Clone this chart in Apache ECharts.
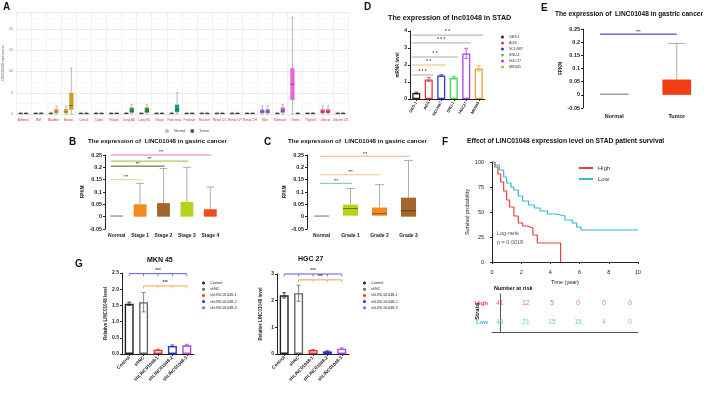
<!DOCTYPE html>
<html>
<head>
<meta charset="utf-8">
<script src="https://cdn.jsdelivr.net/npm/echarts@6/dist/echarts.min.js"></script>
<style>
html, body { margin: 0; padding: 0; background: #fff; }
#wrap { position: relative; width: 709px; height: 397px; overflow: hidden; }
.layer { position: absolute; left: 0; top: 0; width: 709px; height: 397px; }
</style>
</head>
<body>
<div id="wrap"></div>
<script>
const FONT = '"Liberation Sans", Arial, sans-serif';

// ---- A: pan-cancer expression
const aCats = ['Adrenal', 'BM', 'Bladder', 'Breast', 'Cervix', 'Colon', 'Esoph', 'Lung AD', 'Lung SC', 'Ovary', 'Pancreas',
  'Prostate', 'Rectum', 'Renal CC', 'Renal CP', 'Renal CH', 'Skin', 'Stomach', 'Testis', 'Thyroid', 'Uterus', 'Uterine CS'];
const tiny = [0, 0, 0.05, 0.2, 0.4];
const aNormal = [tiny, tiny, tiny, [0, 0.2, 0.5, 1.2, 1.9], tiny, tiny, tiny, tiny, tiny, tiny, tiny,
  tiny, tiny, tiny, tiny, tiny, [0, 0.2, 0.5, 1.1, 1.9], tiny, [0, 3.3, 7, 10.8, 22.8], tiny, [0, 0.2, 0.5, 1.1, 1.9], tiny];
const aTumor = [tiny, tiny, [0, 0.2, 0.5, 1.2, 1.9], [0, 1, 2, 5, 10.8], tiny, tiny, tiny, [0, 0.3, 0.7, 1.5, 2.2], [0, 0.3, 0.7, 1.5, 2.2], tiny, [0, 0.4, 1, 2.2, 5],
  tiny, tiny, tiny, tiny, tiny, [0, 0.2, 0.5, 1.1, 1.9], [0, 0.3, 0.7, 1.5, 2.2], tiny, tiny, [0, 0.2, 0.5, 1.1, 1.9], tiny];
const aNormalColors = ['#555', '#555', '#555', '#e0a030', '#555', '#555', '#555', '#555', '#555', '#555', '#555',
  '#555', '#555', '#555', '#555', '#555', '#9a6ae0', '#555', '#e466e4', '#555', '#e0508a', '#555'];
const aTumorColors = ['#555', '#555', '#e8a040', '#c9a020', '#555', '#555', '#555', '#2a9a4a', '#2a9a4a', '#555', '#17998a',
  '#555', '#555', '#555', '#555', '#555', '#9a6ae0', '#b060c8', '#555', '#555', '#e0508a', '#555'];

// ---- D: cell lines qPCR
const dCats = ['GES-1', 'AGS', 'NCI-N87', 'SNU-1', 'HGC27', 'MKN45'];
const dVals = [0.35, 1.15, 1.38, 1.25, 2.68, 1.8];
const dErr = [0.05, 0.12, 0.05, 0.08, 0.3, 0.15];
const dColors = ['#222', '#e83838', '#2a3ad8', '#3ad84a', '#b040e8', '#f0a030'];
const dSig = [[0, 5, 3.76], [0, 4, 3.3], [0, 3, 2.47], [0, 2, 2.0], [0, 1, 1.41]];
const dSigLabels = ['* *', '* * *', '* *', '* *', '* * *'];
const dSigColors = ['#aaa', '#aaa', '#aaa', '#e0c060', '#aaa'];

// ---- E: normal vs tumor
const eCats = ['Normal', 'Tumor'];
const eBox = [[0, 0, 0, 0, 0], [0, 0, 0.004, 0.058, 0.195]];
const eColors = ['#888', '#f23c12'];
const eSig = [[0, 1, 0.23]];

// ---- B: stages
const bCats = ['Normal', 'Stage 1', 'Stage 2', 'Stage 3', 'Stage 4'];
const bBox = [[0, 0, 0, 0, 0], [0, 0, 0.004, 0.05, 0.135], [0, 0, 0.004, 0.055, 0.195], [0, 0, 0.004, 0.06, 0.2], [0, 0, 0.004, 0.03, 0.12]];
const bColors = ['#888', '#f28a1e', '#a3662b', '#b6d31b', '#f24a1c'];
const bSig = [[0, 4, 0.25], [0, 3, 0.225], [0, 2, 0.205], [0, 1, 0.15]];
const bSigColors = ['#f27c92', '#a5cf5a', '#6f7f3a', '#e8d890'];

// ---- C: grades
const cCats = ['Normal', 'Grade 1', 'Grade 2', 'Grade 3'];
const cBox = [[0, 0, 0, 0, 0], [0.004, 0.004, 0.033, 0.049, 0.114], [0.004, 0.004, 0.012, 0.037, 0.13], [0, 0, 0.024, 0.077, 0.228]];
const cColors = ['#888', '#b6d31b', '#f28a1e', '#a3662b'];
const cSig = [[0, 3, 0.245], [0, 2, 0.17], [0, 1, 0.135]];
const cSigColors = ['#e8b890', '#f2c890', '#90c890'];

// ---- F: survival
const kmLowT = [0, 0.2, 0.5, 0.8, 1, 1.3, 1.5, 1.8, 2.1, 2.5, 2.9, 3.3, 3.8, 4.4, 5, 5.5, 5.8, 6.1, 10];
const kmLowS = [100, 97, 92, 85, 79, 75, 72, 66, 61, 57, 54, 51, 48, 46, 42, 39, 35, 32, 32];
const kmHighT = [0, 0.2, 0.4, 0.6, 0.8, 1, 1.2, 1.5, 1.8, 2.1, 2.4, 2.8, 3.1, 4.7, 4.7];
const kmHighS = [100, 95, 88, 80, 71, 62, 55, 46, 39, 36, 34, 27, 19, 19, 0];
const riskT = [0, 2, 4, 6, 8, 10];
const riskHigh = [41, 12, 5, 0, 0, 0];
const riskLow = [49, 21, 15, 15, 4, 0];

// ---- G: knockdown
const gCats = ['Control', 'shNC', 'shLINC01048-1', 'shLINC01048-2', 'shLINC01048-3'];
const gColors = ['#222', '#666', '#e03535', '#2a35d0', '#b545e0'];
const mknVals = [1.55, 1.6, 0.13, 0.25, 0.27];
const mknErr = [0.05, 0.3, 0.02, 0.03, 0.03];
const hgcVals = [2.2, 2.28, 0.15, 0.1, 0.2];
const hgcErr = [0.1, 0.3, 0.02, 0.02, 0.03];
const mknSig = [[0, 4, 2.48], [1, 4, 2.1]];
const hgcSig = [[0, 4, 3.0], [1, 4, 2.78]];
const gSigColors = ['#5a5ad8', '#e8a840'];

const RED = '#e8413a', CYAN = '#3ab8d2';

const wrap = document.getElementById('wrap');
function layer(option) {
  const d = document.createElement('div');
  d.className = 'layer';
  wrap.appendChild(d);
  const c = echarts.init(d);
  c.setOption(Object.assign({ animation: false, textStyle: { fontFamily: FONT } }, option));
  return c;
}

const ln = (x1, y1, x2, y2, c, lw) => ({ type: 'line', shape: { x1, y1, x2, y2 }, style: { stroke: c, lineWidth: lw || 0.8 } });

function boxSeries(name, boxes, colors, off, ratio, whisk, medCol) {
  return {
    type: 'custom', name, silent: true,
    itemStyle: { color: name === 'Normal' ? '#bbb' : '#555' },
    data: boxes.map((b, i) => [i, b[2]]),
    renderItem: (params, api) => {
      const i = params.dataIndex, b = boxes[i];
      const band = api.size([1, 0])[0];
      const x = api.coord([i, 0])[0] + off * band;
      const w = band * ratio;
      const y = v => api.coord([i, v])[1];
      const kids = [];
      if (b[4] > b[3]) {
        kids.push(ln(x, y(b[4]), x, y(b[3]), whisk));
        kids.push(ln(x - w * 0.3, y(b[4]), x + w * 0.3, y(b[4]), whisk));
      }
      if (b[1] > b[0]) {
        kids.push(ln(x, y(b[1]), x, y(b[0]), whisk));
        kids.push(ln(x - w * 0.3, y(b[0]), x + w * 0.3, y(b[0]), whisk));
      }
      const top = y(b[3]), bot = y(b[1]);
      const h = Math.max(bot - top, 1.2);
      kids.push({ type: 'rect', shape: { x: x - w / 2, y: bot - h, width: w, height: h }, style: { fill: colors[i] } });
      if (medCol && b[3] > b[1]) kids.push(ln(x - w / 2, y(b[2]), x + w / 2, y(b[2]), medCol, 0.9));
      return { type: 'group', children: kids };
    }
  };
}

function sigSeries(list, colors, labels, opt) {
  return {
    type: 'custom', silent: true, z: 5,
    data: list.map(s => [s[0], s[2]]),
    renderItem: (params, api) => {
      const k = params.dataIndex, s = list[k];
      const band = api.size([1, 0])[0];
      const p0 = api.coord([s[0], s[2]]), p1 = api.coord([s[1], s[2]]);
      const x0 = p0[0] - band * (opt.padL || 0), x1 = p1[0] + band * (opt.padR || 0), yy = p0[1];
      const c = colors[k];
      const kids = [{ type: 'line', shape: { x1: x0, y1: yy, x2: x1, y2: yy }, style: { stroke: c, lineWidth: opt.lw || 1 } }];
      if (opt.bracket) {
        for (let j = s[0]; j <= s[1]; j++) {
          const xj = api.coord([j, s[2]])[0];
          kids.push(ln(xj, yy, xj, yy + 2.5, c, 0.8));
        }
      }
      kids.push({
        type: 'text', x: (x0 + x1) / 2, y: yy - 0.5,
        style: { text: labels[k], fill: opt.labelColor || '#444', font: 'bold ' + (opt.fs || 4) + 'px ' + FONT,
          align: 'center', verticalAlign: 'bottom', textAlign: 'center', textVerticalAlign: 'bottom' }
      });
      return { type: 'group', children: kids };
    }
  };
}

function errSeries(vals, errs, colors, capW) {
  return {
    type: 'custom', silent: true, z: 4,
    data: vals.map((v, i) => [i, v]),
    renderItem: (params, api) => {
      const i = params.dataIndex;
      const x = api.coord([i, vals[i]])[0];
      const yt = api.coord([i, vals[i] + errs[i]])[1], yb = api.coord([i, Math.max(0, vals[i] - errs[i])])[1];
      const c = colors[i];
      return { type: 'group', children: [ln(x, yt, x, yb, c, 0.8), ln(x - capW, yt, x + capW, yt, c, 0.8), ln(x - capW, yb, x + capW, yb, c, 0.8)] };
    }
  };
}

function barGroup(cats, vals, colors, bw, blw) {
  return cats.map((n, i) => ({
    type: 'bar', name: n, barWidth: bw, barGap: '-100%',
    data: vals.map((v, j) => (j === i ? v : '-')),
    itemStyle: { color: '#fff', borderColor: colors[i], borderWidth: blw }
  }));
}

function gpAxisY(extra) {
  return Object.assign({
    type: 'value',
    axisLine: { show: true, lineStyle: { color: '#222', width: 1 } },
    axisTick: { show: true, length: 2, lineStyle: { color: '#222' } },
    splitLine: { show: false }
  }, extra);
}

const fmt2 = v => String(Math.round(v * 100) / 100);

// ---------- A
layer({
  backgroundColor: '#fff',
  grid: { left: 10, top: 12, width: 338, height: 102 },
  legend: {
    left: 160, top: 124, itemWidth: 4, itemHeight: 4, itemGap: 5, icon: 'circle',
    textStyle: { fontSize: 3.5, color: '#444' }, data: ['Normal', 'Tumor']
  },
  xAxis: {
    type: 'category', data: aCats,
    axisLine: { show: false }, axisTick: { show: false },
    axisLabel: { fontSize: 3.2, color: '#d03030', interval: 0, margin: 5 },
    splitLine: { show: true, interval: 0, lineStyle: { color: '#ececec', width: 0.8 } }
  },
  yAxis: {
    type: 'value', min: 0, max: 24, interval: 5,
    axisLine: { show: false }, axisTick: { show: false },
    axisLabel: { fontSize: 3.5, color: '#777', margin: 3, formatter: v => (v % 5 === 0 ? v : '') },
    splitLine: { lineStyle: { color: '#e4e4e4', width: 0.8 } },
    minorTick: { show: false, splitNumber: 2 },
    minorSplitLine: { show: true, lineStyle: { color: '#f1f1f1', width: 0.6 } },
    name: 'LINC01048 expression', nameLocation: 'middle', nameGap: 6,
    nameTextStyle: { fontSize: 3.5, color: '#555' }
  },
  series: [
    boxSeries('Normal', aNormal, aNormalColors, -0.18, 0.28, '#aaa', 'rgba(0,0,0,0.4)'),
    boxSeries('Tumor', aTumor, aTumorColors, 0.18, 0.28, '#aaa', 'rgba(0,0,0,0.4)')
  ]
});

// ---------- D
layer({
  grid: { left: 410, top: 31, width: 75, height: 68 },
  legend: {
    left: 496, top: 30, orient: 'vertical', itemGap: 2, itemWidth: 3, itemHeight: 3,
    textStyle: { fontSize: 3.6, color: '#333' },
    data: dCats.map((n, i) => ({ name: n, icon: 'circle', itemStyle: { color: dColors[i], borderWidth: 0 } }))
  },
  xAxis: {
    type: 'category', data: dCats,
    axisLine: { show: true, lineStyle: { color: '#222' } },
    axisTick: { show: true, length: 2, alignWithLabel: true, lineStyle: { color: '#222' } },
    axisLabel: { fontSize: 4, fontWeight: 'bold', color: '#222', rotate: 60, interval: 0, margin: 3 }
  },
  yAxis: gpAxisY({
    min: 0, max: 4, interval: 1,
    axisLabel: { fontSize: 5, color: '#222', fontWeight: 'bold', margin: 3 },
    name: 'mRNA level', nameLocation: 'middle', nameGap: 9,
    nameTextStyle: { fontSize: 4.5, fontWeight: 'bold', color: '#222' }
  }),
  series: barGroup(dCats, dVals, dColors, 8, 1.3).concat([
    errSeries(dVals, dErr, dColors, 2),
    sigSeries(dSig, dSigColors, dSigLabels, { padL: 0.35, padR: 0.35, fs: 4.5 })
  ])
});

// ---------- E
layer({
  grid: { left: 583, top: 29, width: 125, height: 79 },
  xAxis: {
    type: 'category', data: eCats,
    axisLine: { show: false }, axisTick: { show: false },
    axisLabel: { fontSize: 5.5, fontWeight: 'bold', color: '#222', margin: 5 }
  },
  yAxis: gpAxisY({
    min: -0.05, max: 0.25, interval: 0.05,
    axisLabel: { fontSize: 5.5, color: '#222', fontWeight: 'bold', margin: 3, formatter: fmt2 },
    name: 'FPKM', nameLocation: 'middle', nameGap: 18,
    nameTextStyle: { fontSize: 4.5, fontWeight: 'bold', color: '#222' }
  }),
  series: [
    boxSeries('E', eBox, eColors, 0, 0.46, '#999', null),
    sigSeries(eSig, ['#6b6be0'], ['***'], { padL: 0.23, padR: 0, lw: 1.3, fs: 4 })
  ]
});

// ---------- B
layer({
  grid: { left: 105, top: 155, width: 117, height: 74 },
  xAxis: {
    type: 'category', data: bCats,
    axisLine: { show: false }, axisTick: { show: false },
    axisLabel: { fontSize: 5, fontWeight: 'bold', color: '#222', margin: 4, interval: 0 }
  },
  yAxis: gpAxisY({
    min: -0.05, max: 0.25, interval: 0.05,
    axisLabel: { fontSize: 5.5, color: '#222', fontWeight: 'bold', margin: 3, formatter: fmt2 },
    name: 'FPKM', nameLocation: 'middle', nameGap: 17,
    nameTextStyle: { fontSize: 4.5, fontWeight: 'bold', color: '#222' }
  }),
  series: [
    boxSeries('B', bBox, bColors, 0, 0.55, '#999', null),
    sigSeries(bSig, bSigColors, ['***', '***', '***', '***'], { padL: 0.25, padR: 0.05, lw: 1.1, fs: 3.5 })
  ]
});

// ---------- C
layer({
  grid: { left: 307, top: 155, width: 116, height: 74 },
  xAxis: {
    type: 'category', data: cCats,
    axisLine: { show: false }, axisTick: { show: false },
    axisLabel: { fontSize: 5, fontWeight: 'bold', color: '#222', margin: 4, interval: 0 }
  },
  yAxis: gpAxisY({
    min: -0.05, max: 0.25, interval: 0.05,
    axisLabel: { fontSize: 5.5, color: '#222', fontWeight: 'bold', margin: 3, formatter: fmt2 },
    name: 'FPKM', nameLocation: 'middle', nameGap: 17,
    nameTextStyle: { fontSize: 4.5, fontWeight: 'bold', color: '#222' }
  }),
  series: [
    boxSeries('C', cBox, cColors, 0, 0.52, '#999', 'rgba(60,30,0,0.6)'),
    sigSeries(cSig, cSigColors, ['***', '***', '***'], { padL: 0.05, padR: 0.05, lw: 1.1, fs: 3.5 })
  ]
});

// ---------- F
layer({
  legend: {
    left: 574, top: 160, orient: 'vertical', itemWidth: 14, itemHeight: 2, itemGap: 5, icon: 'rect',
    textStyle: { fontSize: 6, color: '#333' }, data: ['High', 'Low']
  },
  grid: [
    { left: 492, top: 162, width: 146, height: 100 },
    { left: 492, top: 294, width: 146, height: 38 }
  ],
  xAxis: [
    {
      type: 'value', gridIndex: 0, min: 0, max: 10, interval: 2, offset: 4,
      axisLine: { show: true, lineStyle: { color: '#222' } },
      axisTick: { show: true, length: 2, lineStyle: { color: '#222' } },
      axisLabel: { fontSize: 5.5, color: '#222', margin: 3 },
      splitLine: { show: false },
      name: 'Time (year)', nameLocation: 'middle', nameGap: 13, nameTextStyle: { fontSize: 5.5, color: '#222' }
    },
    {
      type: 'value', gridIndex: 1, min: -0.6, max: 10.6,
      axisLine: { show: true, lineStyle: { color: '#555' } },
      axisTick: { show: false }, axisLabel: { show: false }, splitLine: { show: false }
    }
  ],
  yAxis: [
    gpAxisY({
      gridIndex: 0, min: 0, max: 100, interval: 25, offset: 5,
      axisLabel: { fontSize: 5.5, color: '#222', margin: 3 },
      name: 'Survival probability', nameLocation: 'middle', nameGap: 17,
      nameTextStyle: { fontSize: 5.5, color: '#222' }
    }),
    {
      type: 'category', gridIndex: 1, data: ['Low', 'High'],
      axisLine: { show: true, lineStyle: { color: '#555' } }, axisTick: { show: false },
      axisLabel: { fontSize: 6, fontWeight: 'bold', margin: 4, color: v => (v === 'High' ? RED : CYAN) }
    }
  ],
  series: [
    {
      type: 'line', name: 'High', step: 'end', showSymbol: false, color: RED,
      lineStyle: { width: 1.2, color: RED },
      data: kmHighT.map((t, i) => [t, kmHighS[i]])
    },
    {
      type: 'line', name: 'Low', step: 'end', showSymbol: false, color: CYAN,
      lineStyle: { width: 1.2, color: CYAN },
      data: kmLowT.map((t, i) => [t, kmLowS[i]])
    },
    {
      type: 'scatter', xAxisIndex: 1, yAxisIndex: 1, symbolSize: 1, itemStyle: { color: 'rgba(0,0,0,0)' },
      label: { show: true, position: 'inside', formatter: p => p.value[2], color: RED, fontSize: 6.5 },
      data: riskT.map((t, i) => [t, 'High', riskHigh[i]])
    },
    {
      type: 'scatter', xAxisIndex: 1, yAxisIndex: 1, symbolSize: 1, itemStyle: { color: 'rgba(0,0,0,0)' },
      label: { show: true, position: 'inside', formatter: p => p.value[2], color: CYAN, fontSize: 6.5 },
      data: riskT.map((t, i) => [t, 'Low', riskLow[i]])
    }
  ]
});

// ---------- G
function gPanel(left, top, height, max, interval, vals, errs, sig, legendLeft, labFmt) {
  return {
    grid: { left, top, width: 72, height },
    legend: {
      left: legendLeft, top: 276, orient: 'vertical', itemGap: 2.2, itemWidth: 3, itemHeight: 3,
      textStyle: { fontSize: 3.8, color: '#333' },
      data: gCats.map((n, i) => ({ name: n, icon: 'circle', itemStyle: { color: gColors[i], borderWidth: 0 } }))
    },
    xAxis: {
      type: 'category', data: gCats,
      axisLine: { show: true, lineStyle: { color: '#222' } },
      axisTick: { show: true, length: 2, alignWithLabel: true, lineStyle: { color: '#222' } },
      axisLabel: { fontSize: 4.6, fontWeight: 'bold', color: '#222', rotate: 45, interval: 0, margin: 3 }
    },
    yAxis: gpAxisY({
      min: 0, max, interval,
      axisLabel: { fontSize: 5, color: '#222', fontWeight: 'bold', margin: 3, formatter: labFmt },
      name: 'Relative LINC01048 level', nameLocation: 'middle', nameGap: 14,
      nameTextStyle: { fontSize: 4.5, fontWeight: 'bold', color: '#222' }
    }),
    series: barGroup(gCats, vals, gColors, 9, 1.4).concat([
      errSeries(vals, errs, gColors, 2),
      sigSeries(sig, gSigColors, ['***', '***'], { padL: 0, padR: 0, lw: 1, fs: 4.5, bracket: true })
    ])
  };
}
layer(gPanel(122, 273, 81, 2.5, 0.5, mknVals, mknErr, mknSig, 197, v => v.toFixed(1)));
layer(gPanel(277, 274, 80, 3, 1, hgcVals, hgcErr, hgcSig, 358, v => String(v)));

// ---------- panel letters and titles
const txt = (text, left, top, size, weight, color) => ({
  type: 'text', left, top,
  style: { text, font: (weight || 'bold') + ' ' + size + 'px ' + FONT, fill: color || '#111' }
});
layer({
  graphic: [
    txt('A', 3, 2, 10),
    txt('D', 364, 2, 10),
    txt('The expression of lnc01048 in STAD', 388, 15, 7.2),
    txt('E', 541, 3, 10),
    txt('The expression of  LINC01048 in gastric cancer', 555, 11, 6.6),
    txt('B', 69, 137, 10),
    txt('The expression of  LINC01048 in gastric cancer', 88, 138, 6.2),
    txt('C', 264, 137, 10),
    txt('The expression of  LINC01048 in gastric cancer', 288, 138, 6.2),
    txt('F', 442, 137, 10),
    txt('Effect of LINC01048 expression level on STAD patient survival', 467, 138, 6.7),
    txt('Log-rank', 497, 230, 5.5, 'normal', '#555'),
    txt('p = 0.0018', 497, 239, 5.5, 'normal', '#555'),
    txt('Number at risk', 494, 285, 5.5),
    {
      type: 'text', x: 474, y: 320, rotation: Math.PI / 2,
      style: { text: 'Strata', font: 'bold 6px ' + FONT, fill: '#111' }
    },
    txt('G', 75, 259, 10),
    txt('MKN 45', 147, 257, 7),
    txt('HGC 27', 298, 256, 7)
  ]
});
</script>
</body>
</html>
